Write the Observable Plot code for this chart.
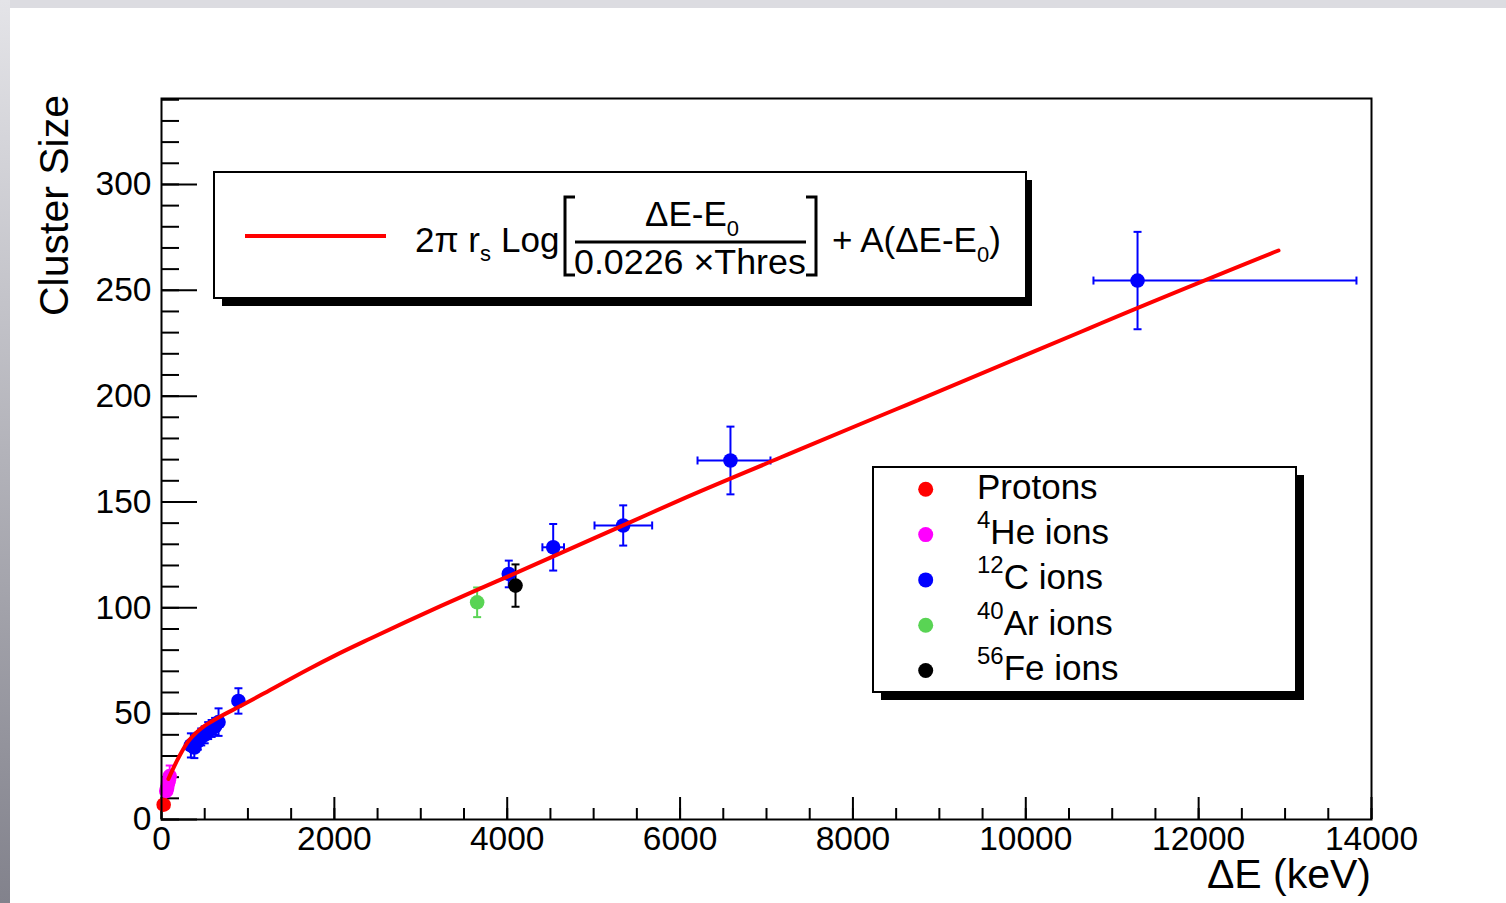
<!DOCTYPE html>
<html><head><meta charset="utf-8">
<script src="https://cdn.jsdelivr.net/npm/d3@7"></script>
<script src="https://cdn.jsdelivr.net/npm/@observablehq/plot@0.6"></script>
<style>
html,body{margin:0;padding:0;background:#fff;width:1506px;height:903px;overflow:hidden;}
#chart{position:absolute;left:0;top:0;}
.strip{position:absolute;z-index:5;}
</style></head><body>
<div id="chart"></div>
<div class="strip" style="left:0;top:0;width:1506px;height:8px;background:#dcdce1"></div>
<div class="strip" style="left:0;top:0;width:10px;height:903px;background:linear-gradient(#e4e4e8,#82828c)"></div>
<script>
// ---- series / legend ----
const seriesNames = ["Protons", "He ions", "C ions", "Ar ions", "Fe ions"];
const seriesMass = ["", "4", "12", "40", "56"];
const seriesColors = ["#ff0000", "#ff00ff", "#0000ff", "#59d454", "#000000"];

// ---- data (ΔE in keV, cluster size) ----
const protonE = [25];
const protonSize = [7];
const protonErr = [1.5];

const heliumE = [55, 65, 75, 85, 95];
const heliumSize = [13.5, 15, 17, 18.5, 20.5];
const heliumErr = [2.5, 2.5, 3, 3, 5];

const carbonE = [340, 380, 420, 460, 500, 540, 580, 620, 660, 890, 4018, 4532, 5342, 6583, 11293];
const carbonSize = [35, 34, 37, 39, 40, 42, 43, 44, 46, 56, 116, 128.6, 138.9, 169.6, 254.6];
const carbonErrY = [5.7, 5, 4, 4, 4, 4, 4, 4, 6.5, 6, 6.3, 11, 9.5, 16, 23];
const carbonErrXlo = [0, 0, 0, 0, 0, 0, 0, 0, 0, 30, 40, 125, 332, 381, 510];
const carbonErrXhi = [0, 0, 0, 0, 0, 0, 0, 0, 0, 30, 40, 125, 335, 463, 2533];

const argonE = [3652];
const argonSize = [102.6];
const argonErr = [7];

const ironE = [4096];
const ironSize = [110.5];
const ironErr = [10];

// fitted curve
const fitE = [80, 181, 297, 451, 644, 914, 1223, 1700, 2000, 2418, 3228, 3691, 4018, 5426, 6005, 7162, 7393, 8500, 10633, 10864, 12924];
const fitSize = [19.2, 27.9, 36.2, 42.8, 47.8, 53.6, 60.4, 71, 77.3, 85.5, 100.8, 109.2, 115, 140.5, 151, 171, 175, 193.8, 230.3, 234.3, 268.8];

// ---- axis ticks ----
const xMajor = [0, 2000, 4000, 6000, 8000, 10000, 12000, 14000];
const xMinor = d3.range(0, 14001, 500);
const yMajor = [0, 50, 100, 150, 200, 250, 300];
const yMinor = d3.range(0, 341, 10);

function build(series, E, S, ey, lo, hi) {
  return E.map((e, i) => ({
    series, e, s: S[i], ey: ey[i],
    lo: lo ? lo[i] : 0, hi: hi ? hi[i] : 0
  }));
}
const points = [
  ...build("Protons", protonE, protonSize, protonErr),
  ...build("He ions", heliumE, heliumSize, heliumErr),
  ...build("C ions", carbonE, carbonSize, carbonErrY, carbonErrXlo, carbonErrXhi),
  ...build("Ar ions", argonE, argonSize, argonErr),
  ...build("Fe ions", ironE, ironSize, ironErr)
];
const hErr = points.filter(d => d.lo > 0 || d.hi > 0);
const fit = fitE.map((e, i) => ({e, s: fitSize[i]}));

const hCap = {draw(ctx) { ctx.moveTo(-4, 0); ctx.lineTo(4, 0); }};
const vCap = {draw(ctx) { ctx.moveTo(0, -4); ctx.lineTo(0, 4); }};

const FONT = "'Liberation Sans', Arial, Helvetica, sans-serif";
const fmt = d => String(d);

const svg = Plot.plot({
  width: 1506, height: 903,
  marginLeft: 161, marginRight: 135, marginTop: 98, marginBottom: 84,
  style: {fontFamily: FONT, background: "transparent", color: "black"},
  x: {domain: [0, 14000], label: null},
  y: {domain: [0, 340.6], label: null},
  color: {domain: seriesNames, range: seriesColors},
  marks: [
    Plot.axisY(yMinor, {tickSize: -18, text: null, label: null, strokeWidth: 2}),
    Plot.axisY(yMajor, {tickSize: -36, text: null, label: null, strokeWidth: 2}),
    Plot.axisY(yMajor, {tickSize: 0, tickPadding: 10, fontSize: 33.5, label: null, tickFormat: fmt}),
    Plot.axisX(xMinor, {tickSize: -11, text: null, label: null, strokeWidth: 2}),
    Plot.axisX(xMajor, {tickSize: -22, text: null, label: null, strokeWidth: 2}),
    Plot.axisX(xMajor, {tickSize: 0, tickPadding: 7, fontSize: 33.5, label: null, tickFormat: fmt}),
    // vertical error bars
    Plot.ruleX(points, {x: "e", y1: d => d.s - d.ey, y2: d => d.s + d.ey, stroke: "series", strokeWidth: 2}),
    Plot.dot(points, {x: "e", y: d => d.s - d.ey, symbol: hCap, stroke: "series", fill: "none", strokeWidth: 2}),
    Plot.dot(points, {x: "e", y: d => d.s + d.ey, symbol: hCap, stroke: "series", fill: "none", strokeWidth: 2}),
    // horizontal error bars
    Plot.ruleY(hErr, {y: "s", x1: d => d.e - d.lo, x2: d => d.e + d.hi, stroke: "series", strokeWidth: 2}),
    Plot.dot(hErr, {y: "s", x: d => d.e - d.lo, symbol: vCap, stroke: "series", fill: "none", strokeWidth: 2}),
    Plot.dot(hErr, {y: "s", x: d => d.e + d.hi, symbol: vCap, stroke: "series", fill: "none", strokeWidth: 2}),
    // points
    Plot.dot(points, {x: "e", y: "s", r: 7.3, fill: "series", stroke: null}),
    // fit curve
    Plot.line(fit, {x: "e", y: "s", stroke: "#ff0000", strokeWidth: 4, curve: "monotone-x"}),
    Plot.frame({stroke: "black", strokeWidth: 2})
  ]
});
document.getElementById("chart").appendChild(svg);

const g = d3.select(svg).append("g")
  .attr("font-family", FONT).attr("fill", "black").attr("text-anchor", "start");

// axis titles
g.append("text").attr("transform", "translate(68,95) rotate(-90)")
  .attr("text-anchor", "end").attr("font-size", 41).text("Cluster Size");
g.append("text").attr("x", 1371).attr("y", 888)
  .attr("text-anchor", "end").attr("font-size", 41).text("ΔE (keV)");

// formula box
g.append("rect").attr("x", 222).attr("y", 180).attr("width", 810).attr("height", 126).attr("fill", "black");
g.append("rect").attr("x", 214).attr("y", 172).attr("width", 812).attr("height", 126)
  .attr("fill", "white").attr("stroke", "black").attr("stroke-width", 2);
g.append("line").attr("x1", 245).attr("x2", 386).attr("y1", 236).attr("y2", 236)
  .attr("stroke", "#ff0000").attr("stroke-width", 4);
const f1 = g.append("text").attr("x", 415).attr("y", 252).attr("font-size", 35);
f1.append("tspan").text("2π r");
f1.append("tspan").attr("font-size", 22).attr("dy", 9).text("s");
f1.append("tspan").attr("dy", -9).attr("dx", 10).text("Log");
g.append("path").attr("d", "M575,197H565V275H575").attr("fill", "none").attr("stroke", "black").attr("stroke-width", 3);
g.append("path").attr("d", "M806,197H816V275H806").attr("fill", "none").attr("stroke", "black").attr("stroke-width", 3);
const num = g.append("text").attr("x", 645).attr("y", 226).attr("font-size", 35);
num.append("tspan").text("ΔE-E");
num.append("tspan").attr("font-size", 22).attr("dy", 10).text("0");
g.append("line").attr("x1", 575).attr("x2", 806).attr("y1", 242).attr("y2", 242)
  .attr("stroke", "black").attr("stroke-width", 3);
g.append("text").attr("x", 574).attr("y", 274).attr("font-size", 35.8).text("0.0226 ×Thres");
const f2 = g.append("text").attr("x", 832).attr("y", 252).attr("font-size", 35);
f2.append("tspan").text("+ A(ΔE-E");
f2.append("tspan").attr("font-size", 22).attr("dy", 10).text("0");
f2.append("tspan").attr("dy", -10).text(")");

// series legend
g.append("rect").attr("x", 881).attr("y", 475).attr("width", 423).attr("height", 225).attr("fill", "black");
g.append("rect").attr("x", 873).attr("y", 467).attr("width", 423).attr("height", 225)
  .attr("fill", "white").attr("stroke", "black").attr("stroke-width", 2);
seriesNames.forEach((name, i) => {
  const cy = 489.3 + i * 45.3;
  g.append("circle").attr("cx", 925.7).attr("cy", cy).attr("r", 7.5).attr("fill", seriesColors[i]);
  const t = g.append("text").attr("x", 977).attr("y", cy + 9.5).attr("font-size", 35);
  if (seriesMass[i]) {
    t.append("tspan").attr("font-size", 24).attr("dy", -16).text(seriesMass[i]);
    t.append("tspan").attr("dy", 16).text(name);
  } else {
    t.text(name);
  }
});
</script>
</body></html>
